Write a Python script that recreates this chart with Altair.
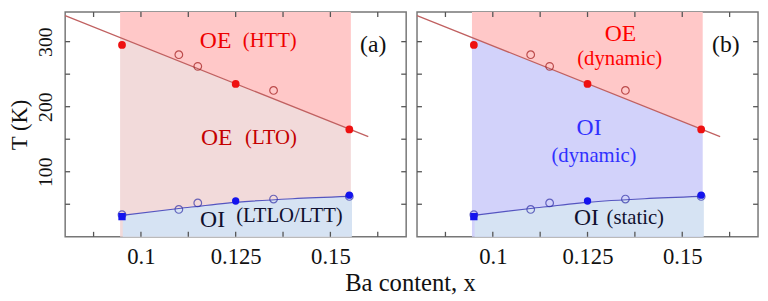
import altair as alt
import pandas as pd

# ---------------- data ----------------
# measured points
red_filled_x = [0.095, 0.125, 0.155]
red_filled_T = [295, 235, 165]
red_open_x = [0.11, 0.115, 0.135]
red_open_T = [280, 262, 225]
blue_filled_x = [0.095, 0.125, 0.155]
blue_filled_T = [31, 55, 64]
blue_filled_shape = ["square", "circle", "circle"]
blue_open_x = [0.095, 0.11, 0.115, 0.135, 0.155]
blue_open_T = [34, 42, 52, 58, 62]

# boundary lines
red_line_x = [0.08, 0.16]
red_line_T = [340, 154]
blue_line_x = [0.095, 0.11, 0.125, 0.14, 0.155]
blue_line_T = [33, 43.5, 53, 58.5, 62]

# shaded regions
region_x = [0.0945, 0.1554]
region_red_T = [306, 165]
region_top_T = [345.5, 345.5]
blue_region_x = [0.0952, 0.11, 0.125, 0.14, 0.1557]
blue_region_T = [33, 43.5, 53, 58.5, 62]

# annotations
left_text = ["OE", "(HTT)", "OE", "(LTO)", "OI", "(LTLO/LTT)", "(a)"]
left_text_x = [0.1197, 0.1340, 0.1200, 0.1343, 0.1189, 0.1392, 0.1613]
left_text_T = [301.5, 301, 151.5, 151, 25.8, 31.8, 294]
left_text_color = ["#ee0000", "#ee0000", "#c40000", "#c40000", "#10102e", "#10102e", "#111111"]
left_text_size = [24, 21, 24, 21, 24, 21, 24]

right_text = ["OE", "(dynamic)", "OI", "(dynamic)", "OI", "(static)", "(b)"]
right_text_x = [0.1337, 0.1335, 0.1254, 0.1267, 0.1247, 0.1376, 0.1615]
right_text_T = [312, 272.7, 166.7, 124, 28.8, 28.8, 294]
right_text_color = ["#ff0000", "#ff0000", "#3030ff", "#3030ff", "#10102e", "#10102e", "#111111"]
right_text_size = [24, 21, 24, 21, 24, 21, 24]

x_ticks = [0.0875, 0.1, 0.1125, 0.125, 0.1375, 0.15, 0.1625]
y_ticks = [50, 100, 150, 200, 250, 300]

X_DOMAIN = [0.08, 0.17]
Y_DOMAIN = [0, 345.5]
W = 346
H = 228
TICK = 5
FONT = "Liberation Serif"
TICK_COLOR = "#555555"

xs = alt.Scale(domain=X_DOMAIN, zero=False, nice=False)
ys = alt.Scale(domain=Y_DOMAIN, zero=False, nice=False)


def make_panel(mid_color, texts, tx, tT, tcol, tsize, show_y):
    x_axis = alt.Axis(
        values=x_ticks, format=".4~f",
        labelExpr="indexof(['0.1','0.125','0.15'], datum.label) >= 0 ? datum.label : ''",
        ticks=False, domain=False, grid=False, labelFont=FONT, labelFontSize=23,
        labelColor="#111111", labelPadding=9, labelOverlap=False, title=None,
    )
    if show_y:
        y_axis = alt.Axis(
            values=y_ticks,
            labelExpr="indexof(['100','200','300'], datum.label) >= 0 ? datum.label : ''",
            labelAngle=-90, labelAlign="center", labelBaseline="bottom",
            ticks=False, domain=False, grid=False, labelFont=FONT, labelFontSize=20,
            labelColor="#111111", labelPadding=10, labelOverlap=False,
            title="T (K)", titleFont=FONT, titleFontSize=23, titleFontWeight="normal",
            titleColor="#111111", titlePadding=4,
        )
    else:
        y_axis = alt.Axis(values=y_ticks, labels=False, ticks=False, domain=False,
                          grid=False, title=None)

    region = pd.DataFrame({"x": region_x, "red": region_red_T, "top": region_top_T})
    blue_region = pd.DataFrame({"x": blue_region_x, "T": blue_region_T})

    top_area = alt.Chart(region).mark_area(color="#ffc8c8", opacity=1).encode(
        x=alt.X("x:Q", scale=xs, axis=x_axis),
        y=alt.Y("red:Q", scale=ys, axis=y_axis),
        y2="top:Q",
    )
    mid_area = alt.Chart(region).mark_area(color=mid_color, opacity=1).encode(
        x=alt.X("x:Q", scale=xs), y=alt.Y("red:Q", scale=ys), y2=alt.datum(0)
    )
    blue_area = alt.Chart(blue_region).mark_area(color="#d6e3f3", opacity=1, interpolate="monotone").encode(
        x=alt.X("x:Q", scale=xs), y=alt.Y("T:Q", scale=ys), y2=alt.datum(0)
    )

    # inward ticks on all four sides
    xt = pd.DataFrame({"tx": x_ticks})
    yt = pd.DataFrame({"ty": y_ticks})
    tick_bottom = alt.Chart(xt).mark_rule(color=TICK_COLOR, strokeWidth=1.3).encode(
        x=alt.X("tx:Q", scale=xs), y=alt.value(H - TICK), y2=alt.value(H))
    tick_top = alt.Chart(xt).mark_rule(color=TICK_COLOR, strokeWidth=1.3).encode(
        x=alt.X("tx:Q", scale=xs), y=alt.value(0), y2=alt.value(TICK))
    tick_left = alt.Chart(yt).mark_rule(color=TICK_COLOR, strokeWidth=1.3).encode(
        y=alt.Y("ty:Q", scale=ys), x=alt.value(0), x2=alt.value(TICK))
    tick_right = alt.Chart(yt).mark_rule(color=TICK_COLOR, strokeWidth=1.3).encode(
        y=alt.Y("ty:Q", scale=ys), x=alt.value(W - TICK), x2=alt.value(W))

    red_line = alt.Chart(pd.DataFrame({"x": red_line_x, "T": red_line_T})).mark_line(
        color="#c06060", strokeWidth=1.2
    ).encode(x=alt.X("x:Q", scale=xs), y=alt.Y("T:Q", scale=ys))
    blue_line = alt.Chart(pd.DataFrame({"x": blue_line_x, "T": blue_line_T})).mark_line(
        color="#5555c0", strokeWidth=1.2, interpolate="monotone"
    ).encode(x=alt.X("x:Q", scale=xs), y=alt.Y("T:Q", scale=ys))

    red_open = alt.Chart(pd.DataFrame({"x": red_open_x, "T": red_open_T})).mark_point(
        shape="circle", filled=False, stroke="#a01818", strokeWidth=1.2, size=60
    ).encode(x=alt.X("x:Q", scale=xs), y=alt.Y("T:Q", scale=ys))
    red_filled = alt.Chart(pd.DataFrame({"x": red_filled_x, "T": red_filled_T})).mark_circle(
        color="#ee1111", size=62, opacity=1
    ).encode(x=alt.X("x:Q", scale=xs), y=alt.Y("T:Q", scale=ys))

    blue_filled = alt.Chart(pd.DataFrame({"x": blue_filled_x, "T": blue_filled_T,
                                          "shape": blue_filled_shape})).mark_point(
        filled=True, color="#1414ee", size=55, opacity=1
    ).encode(x=alt.X("x:Q", scale=xs), y=alt.Y("T:Q", scale=ys),
             shape=alt.Shape("shape:N", scale=None))
    blue_open = alt.Chart(pd.DataFrame({"x": blue_open_x, "T": blue_open_T})).mark_point(
        shape="circle", filled=False, stroke="#3030a8", strokeWidth=1.2, size=60
    ).encode(x=alt.X("x:Q", scale=xs), y=alt.Y("T:Q", scale=ys))

    tdf = pd.DataFrame({"x": tx, "T": tT, "text": texts, "color": tcol, "size": tsize})
    text = alt.Chart(tdf).mark_text(font=FONT, fontSize=22, align="center", baseline="middle").encode(
        x=alt.X("x:Q", scale=xs), y=alt.Y("T:Q", scale=ys), text="text:N",
        color=alt.Color("color:N", scale=None), size=alt.Size("size:Q", scale=None),
    )

    return alt.layer(
        top_area, mid_area, blue_area,
        red_line, blue_line, red_open, red_filled, blue_open, blue_filled, text,
        tick_bottom, tick_top, tick_left, tick_right,
    ).properties(width=W, height=H)


left = make_panel("#f2dada", left_text, left_text_x, left_text_T, left_text_color, left_text_size, True)
right = make_panel("#d2d2fa", right_text, right_text_x, right_text_T, right_text_color, right_text_size, False)

chart = alt.hconcat(left, right, spacing=5).properties(
    padding=0,
    background="white",
    title=alt.TitleParams(
        "Ba content, x", orient="bottom", anchor="middle", font=FONT, fontSize=25,
        fontWeight="normal", color="#111111", offset=2, dx=27,
    ),
).configure_view(stroke="#777777", strokeWidth=1.5).configure_text(font=FONT)

chart.save("out.html", embed_options={"renderer": "svg", "actions": False})
